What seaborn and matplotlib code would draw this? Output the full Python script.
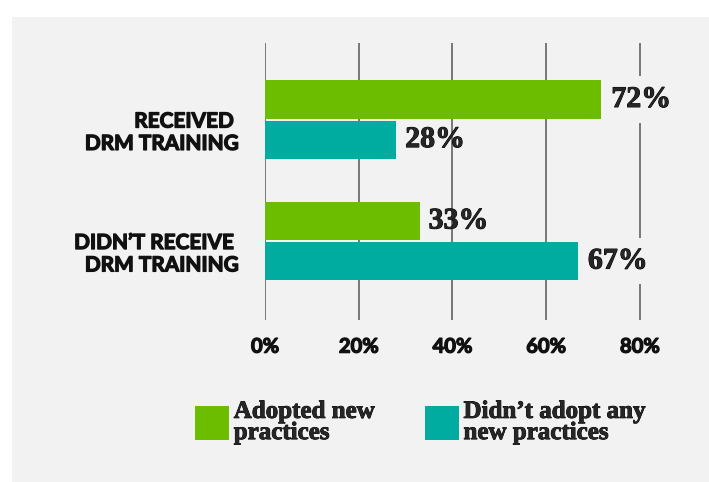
import matplotlib
matplotlib.use("Agg")
import matplotlib.pyplot as plt
import matplotlib.transforms as mtransforms
import matplotlib.patheffects as pe
from matplotlib.patches import Rectangle, Patch
import seaborn as sns
import pandas as pd

# data
groups = ["RECEIVED \nDRM TRAINING", "DIDN\u2019T RECEIVE \nDRM TRAINING"]
series = ["Adopted new\npractices", "Didn\u2019t adopt any\nnew practices"]
adopted = [72, 33]
not_adopted = [28, 67]
xticks = [0, 20, 40, 60, 80]

colors = ["#6cbd00", "#00aba0"]
panel = "#f2f2f2"

df = pd.DataFrame({
    "group": groups * 2,
    "series": [series[0]] * 2 + [series[1]] * 2,
    "value": adopted + not_adopted,
})

sns.set_style("white")
plt.rcParams["font.family"] = ["Lato", "DejaVu Sans"]
serif = ["Liberation Serif", "DejaVu Serif"]
heavy = [pe.withStroke(linewidth=0.9, foreground="#111111")]

fig = plt.figure(figsize=(7.09, 4.82), dpi=100)
fig.patch.set_facecolor("white")
# light grey panel behind everything (screenshot crop leaves a white strip)
fig.patches.append(Rectangle((12 / 709, 0), 1, 1 - 17 / 482, transform=fig.transFigure,
                             facecolor=panel, edgecolor="none", zorder=-10))

ax = fig.add_axes([265 / 709, 1 - 320 / 482, 90 * 4.685 / 709, 277 / 482])
ax.set_facecolor("none")

sns.barplot(data=df, y="group", x="value", hue="series", orient="h",
            palette=colors, saturation=1, width=0.66, gap=0.05, ax=ax,
            legend=False, edgecolor="none", zorder=3)

ax.set_xlim(0, 90)
ax.set_ylim(1.65, -0.63)
ax.set_xticks(xticks)
ax.set_xticklabels([f"{t}%" for t in xticks], fontsize=14.5, fontweight="bold",
                   color="#111111")
ax.tick_params(axis="x", length=0, pad=12)
ax.tick_params(axis="y", length=0, pad=19)
for lab in ax.get_xticklabels():
    lab.set_path_effects(heavy)
for lab in ax.get_yticklabels():
    lab.set_fontsize(15)
    lab.set_fontweight("bold")
    lab.set_color("#111111")
    lab.set_multialignment("right")
    lab.set_linespacing(1.15)
    lab.set_path_effects(heavy)
    lab.set_transform(lab.get_transform() +
                      mtransforms.ScaledTranslation(0, -10 / 100, fig.dpi_scale_trans))
ax.set_xlabel("")
ax.set_ylabel("")
for s in ax.spines.values():
    s.set_visible(False)
ax.grid(axis="x", color="#6e6e6e", linewidth=1.3, zorder=0)
ax.set_axisbelow(True)

# value labels in bold serif, sitting a touch below the bar centre
nudge = mtransforms.ScaledTranslation(0, -3 / 100, fig.dpi_scale_trans)
for cont in ax.containers:
    texts = ax.bar_label(cont, labels=[f"{v:.0f}%" for v in cont.datavalues],
                         padding=6.5, fontsize=21.5, fontweight="bold", family=serif)
    for t, v in zip(texts, cont.datavalues):
        t.set_va("center")
        t.set_transform(t.get_transform() + nudge)
        t.set_path_effects([pe.withStroke(linewidth=0.7, foreground="black")])
        if v > 60:
            # these labels sit over the 80% line, which is broken behind them
            t.set_bbox(dict(facecolor=panel, edgecolor="none", pad=7))

handles = [Patch(facecolor=c, edgecolor="none") for c in colors]
leg = fig.legend(handles, series, loc="center left",
                 bbox_to_anchor=(195 / 709, 1 - 422 / 482), ncol=2, frameon=False,
                 borderpad=0, borderaxespad=0,
                 handlelength=1.35, handleheight=1.75, handletextpad=0.2,
                 columnspacing=2.0,
                 prop=dict(family=serif, weight="bold", size=18))
for t in leg.get_texts():
    t.set_linespacing(0.9)
    t.set_path_effects([pe.withStroke(linewidth=0.6, foreground="black")])

fig.savefig("out.png", dpi=100)
